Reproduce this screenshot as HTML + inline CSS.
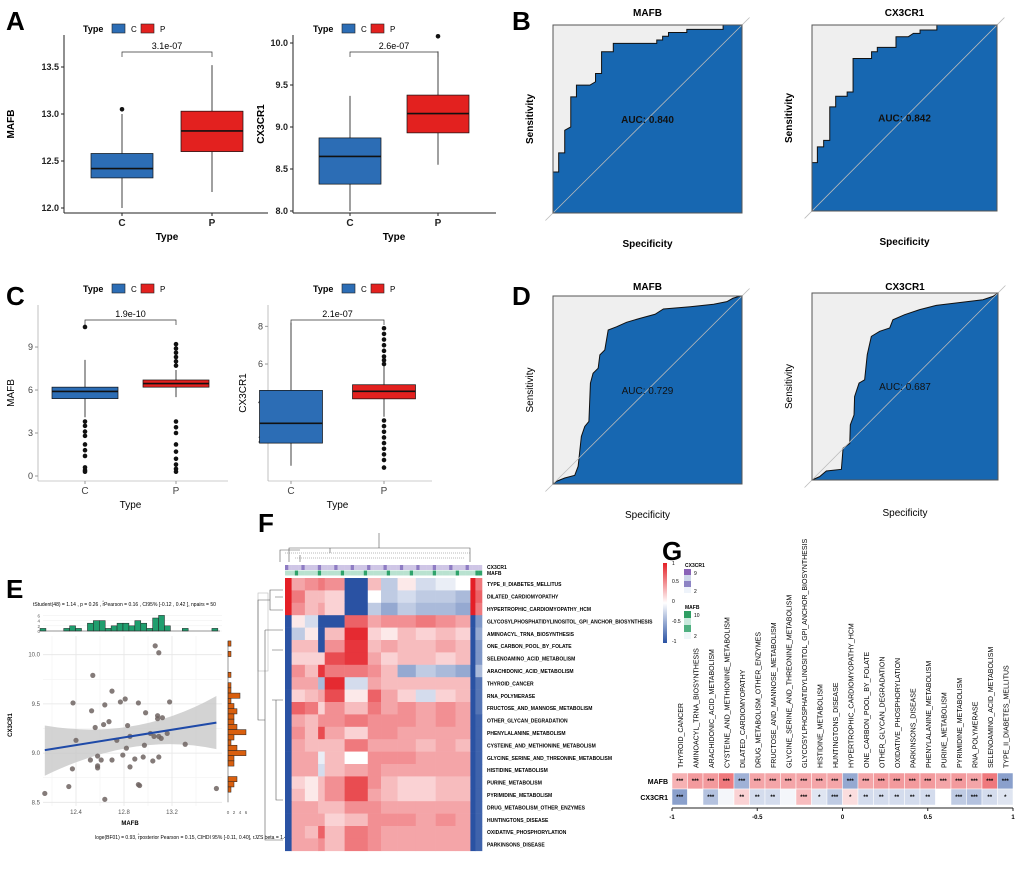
<!DOCTYPE html>
<html><head><meta charset="utf-8"><style>
body{margin:0;background:#fff}svg{display:block}
text{font-family:"Liberation Sans",sans-serif}
</style></head><body>
<svg id="fig" width="1020" height="881" viewBox="0 0 1020 881" xmlns="http://www.w3.org/2000/svg"></svg>
<script>
// ---------- data ----------
const groups=["C","P"];
const aMafbStats=[[12.0,12.32,12.42,12.58,13.0],[12.17,12.6,12.82,13.03,13.52]];
const aMafbOut=[[13.05],[]];
const aCxStats=[[8.0,8.32,8.65,8.87,9.37],[8.55,8.93,9.16,9.38,9.9]];
const aCxOut=[[],[10.08]];
const cMafbStats=[[4.1,5.4,5.9,6.2,8.1],[5.5,6.2,6.45,6.7,7.4]];
const cMafbOut=[[10.4,3.8,3.5,3.1,2.8,2.2,1.8,1.4,0.6,0.4,0.3],[9.2,8.9,8.6,8.3,8.0,7.7,3.8,3.4,3.0,2.2,1.7,1.2,0.8,0.5,0.3]];
const cCxStats=[[0.6,1.8,2.85,4.6,8.2],[3.2,4.15,4.55,4.9,5.9]];
const cCxOut=[[],[7.9,7.6,7.3,7.0,6.7,6.4,6.2,6.0,3.0,2.7,2.4,2.1,1.8,1.5,1.2,0.9,0.5]];
const bMafbFpr=[0,0,.03,.03,.062,.062,.094,.094,.124,.124,.195,.225,.225,.257,.257,.319,.319,.549,.549,.58,.58,.611,.611,.708,.708,.9,.9,1];
const bMafbTpr=[0,.218,.218,.32,.32,.44,.458,.618,.618,.68,.68,.698,.742,.742,.858,.858,.902,.902,.92,.92,.94,.94,.96,.96,.977,.977,1,1];
const bCxFpr=[0,0,.029,.029,.063,.063,.096,.096,.128,.128,.19,.19,.222,.222,.322,.322,.353,.353,.454,.454,.521,.548,.584,.584,.675,.675,1];
const bCxTpr=[0,.26,.26,.345,.345,.38,.38,.56,.56,.617,.617,.64,.64,.82,.82,.856,.856,.88,.88,.937,.937,.955,.955,.973,.973,1,1];
const dMafbFpr=[0,.018,.062,.115,.133,.15,.168,.19,.198,.212,.239,.248,.274,.292,.336,.389,.46,.54,.584,.726,.85,.92,.952,.991,1];
const dMafbTpr=[0,.014,.032,.046,.094,.253,.306,.333,.536,.589,.616,.687,.713,.819,.836,.86,.881,.903,.931,.943,.956,.97,.988,1,1];
const dCxFpr=[0,.041,.077,.158,.167,.203,.206,.226,.229,.253,.283,.297,.319,.364,.418,.435,.498,.579,.668,.919,.973,1];
const dCxTpr=[0,.018,.048,.057,.17,.196,.295,.348,.446,.518,.536,.67,.768,.795,.813,.857,.884,.911,.934,.964,.982,1];
const eX=[12.14,12.34,12.37,12.375,12.40,12.54,12.53,12.56,12.52,12.58,12.58,12.58,12.61,12.63,12.64,12.64,12.675,12.70,12.70,12.74,12.77,12.79,12.81,12.82,12.83,12.85,12.85,12.89,12.92,12.93,12.92,12.96,12.97,12.98,13.02,13.04,13.05,13.06,13.09,13.08,13.08,13.09,13.09,13.11,13.12,13.16,13.18,13.31,13.57];
const eY=[8.59,8.66,8.84,9.51,9.13,9.79,9.43,9.26,8.93,8.97,8.87,8.85,8.93,9.29,8.53,9.49,9.32,8.93,9.63,9.13,9.52,8.98,9.55,9.05,9.28,9.17,8.86,8.94,8.68,8.67,9.51,8.96,9.08,9.41,9.20,8.92,9.17,10.09,10.02,9.38,9.35,9.17,8.96,9.15,9.36,9.20,9.52,9.09,8.64];
const eHistTop=[1,0,0,0,1,2,1,0,3,4,4,1,2,3,3,2,4,3,1,5,6,2,0,0,1,0,0,0,0,1];
const eHistRight=[1,0,1,0,0,0,1,0,1,1,4,1,2,3,2,2,3,6,2,1,3,6,2,2,0,0,3,2,1];
const fRows=["TYPE_II_DIABETES_MELLITUS","DILATED_CARDIOMYOPATHY","HYPERTROPHIC_CARDIOMYOPATHY_HCM","GLYCOSYLPHOSPHATIDYLINOSITOL_GPI_ANCHOR_BIOSYNTHESIS","AMINOACYL_TRNA_BIOSYNTHESIS","ONE_CARBON_POOL_BY_FOLATE","SELENOAMINO_ACID_METABOLISM","ARACHIDONIC_ACID_METABOLISM","THYROID_CANCER","RNA_POLYMERASE","FRUCTOSE_AND_MANNOSE_METABOLISM","OTHER_GLYCAN_DEGRADATION","PHENYLALANINE_METABOLISM","CYSTEINE_AND_METHIONINE_METABOLISM","GLYCINE_SERINE_AND_THREONINE_METABOLISM","HISTIDINE_METABOLISM","PURINE_METABOLISM","PYRIMIDINE_METABOLISM","DRUG_METABOLISM_OTHER_ENZYMES","HUNTINGTONS_DISEASE","OXIDATIVE_PHOSPHORYLATION","PARKINSONS_DISEASE"];
const fVals=[
[1,.4,.5,.6,.5,-1,.3,-.3,.1,-.2,-.1,0,1,.6],
[1,.6,.3,.3,.2,-1,0,-.3,-.2,-.3,-.3,-.4,1,.7],
[1,.5,.3,.4,.2,-1,-.3,-.5,-.3,-.4,-.4,-.5,1,.6],
[-1,.1,-.2,-1,-1,.7,.4,.5,.5,.6,.5,.4,-1,-.6],
[-1,-.3,.1,-1,.3,.95,.2,.1,.3,.2,.3,.2,-1,-.5],
[-1,.3,.3,-1,.5,.9,.3,.4,.3,.3,.4,.3,-1,-.6],
[-1,.2,.2,.2,.8,.9,.4,.2,.3,.3,.2,.3,-1,-.6],
[-1,.5,.3,.9,.6,.6,.5,.3,-.5,-.3,-.4,-.5,-1,-.4],
[-1,.4,.4,-.4,.95,-.2,.4,.3,.3,.3,.3,.3,-1,-.8],
[-1,.2,.3,.4,.8,.1,.7,.4,.2,-.2,.2,.3,-1,-.8],
[-1,.7,.6,.2,.5,.3,.6,.4,.5,.4,.5,.4,-1,-.8],
[-1,.4,.3,.5,.5,.6,.5,.5,.5,.4,.5,.4,-1,-.9],
[-1,.5,.3,.8,.4,.2,.5,.5,.4,.4,.4,.4,-1,-.9],
[-1,.4,.3,.3,.3,.6,.4,.4,.4,.3,.4,.3,-1,-.9],
[-1,.4,.4,-.1,.3,0,.5,.5,.5,.4,.4,.4,-1,-.9],
[-1,.4,.4,-.2,.3,.4,.5,.4,.4,.4,.4,.4,-1,-.9],
[-1,.2,.1,.3,.5,.8,.5,.3,.2,.2,.3,.3,-1,-.9],
[-1,.3,.1,.3,.5,.8,.4,.3,.2,.2,.3,.3,-1,-.9],
[-1,.4,.4,.3,.3,.5,.5,.4,.4,.4,.4,.4,-1,-.9],
[-1,.4,.4,.4,.2,.3,.5,.5,.5,.4,.5,.4,-1,-.9],
[-1,.4,.3,.7,.3,.6,.5,.4,.4,.4,.4,.4,-1,-.9],
[-1,.4,.4,.5,.3,.6,.5,.4,.4,.4,.4,.4,-1,-.9]];
const gCols=["THYROID_CANCER","AMINOACYL_TRNA_BIOSYNTHESIS","ARACHIDONIC_ACID_METABOLISM","CYSTEINE_AND_METHIONINE_METABOLISM","DILATED_CARDIOMYOPATHY","DRUG_METABOLISM_OTHER_ENZYMES","FRUCTOSE_AND_MANNOSE_METABOLISM","GLYCINE_SERINE_AND_THREONINE_METABOLISM","GLYCOSYLPHOSPHATIDYLINOSITOL_GPI_ANCHOR_BIOSYNTHESIS","HISTIDINE_METABOLISM","HUNTINGTONS_DISEASE","HYPERTROPHIC_CARDIOMYOPATHY_HCM","ONE_CARBON_POOL_BY_FOLATE","OTHER_GLYCAN_DEGRADATION","OXIDATIVE_PHOSPHORYLATION","PARKINSONS_DISEASE","PHENYLALANINE_METABOLISM","PURINE_METABOLISM","PYRIMIDINE_METABOLISM","RNA_POLYMERASE","SELENOAMINO_ACID_METABOLISM","TYPE_II_DIABETES_MELLITUS"];
const gMafb=[.35,.45,.45,.6,-.45,.4,.4,.4,.4,.4,.4,-.5,.4,.45,.45,.45,.45,.4,.45,.4,.6,-.55];
const gCx=[-.55,0,-.35,-.05,.2,-.2,-.2,-.05,.3,-.15,-.3,.15,-.2,-.2,-.2,-.2,-.2,0,-.3,-.35,-.2,-.15];
const gMafbStars=["***","***","***","***","***","***","***","***","***","***","***","***","***","***","***","***","***","***","***","***","***","***"];
const gCxStars=["***","","***","","**","**","**","","***","*","***","*","**","**","**","**","**","","***","***","**","*"];

// ---------- helpers ----------
const NS="http://www.w3.org/2000/svg";const svg=document.getElementById('fig');
function el(tag,at,p){const e=document.createElementNS(NS,tag);for(const k in at)e.setAttribute(k,at[k]);(p||svg).appendChild(e);return e;}
function tx(x,y,s,size,o,p){const e=el('text',Object.assign({x:x,y:y,'font-size':size},o||{}),p);e.textContent=s;return e;}
const BLUE="#2c6db5",RED="#e3211f";
function heat(v){const t=Math.min(1,Math.abs(v));if(v>=0)return `rgb(${Math.round(255-27*t)},${Math.round(255-224*t)},${Math.round(255-217*t)})`;return `rgb(${Math.round(255-213*t)},${Math.round(255-173*t)},${Math.round(255-92*t)})`;}

[["A",6,30],["B",512,30],["C",6,305],["D",512,305],["E",6,598],["F",258,532],["G",662,560]].forEach(l=>{
 const t=tx(l[1],l[2],l[0],26,{'font-weight':'bold'});
 
 
});

function legend(x,y,name){
 const g=el('g',{});
 
 
 tx(x,y+4,"Type",9,{'font-weight':'bold'},g);
 el('rect',{x:x+29,y:y-4,width:13,height:9,fill:BLUE,stroke:"#222",'stroke-width':.6},g);
 tx(x+48,y+4,"C",8,{},g);
 el('rect',{x:x+58,y:y-4,width:13,height:9,fill:RED,stroke:"#222",'stroke-width':.6},g);
 tx(x+77,y+4,"P",8,{},g);
}

function boxplot(o){
 const g=el('g',{});
 
 
 const sy=v=>o.y0-(v-o.v0)*o.k;
 el('line',{x1:o.ax,y1:o.top,x2:o.ax,y2:o.bot,stroke:o.axc,'stroke-width':o.aw},g);
 el('line',{x1:o.ax,y1:o.bot,x2:o.right,y2:o.bot,stroke:o.axc,'stroke-width':o.aw},g);
 o.ticks.forEach(t=>{el('line',{x1:o.ax-3,y1:sy(t),x2:o.ax,y2:sy(t),stroke:o.axc},g);tx(o.ax-5,sy(t)+3,o.tf(t),o.tfs,{'text-anchor':'end',fill:o.tc,'font-weight':o.bold?'bold':'normal'},g);});
 groups.forEach((gr,i)=>{
  const cx=o.cx[i],w=o.w,s=o.stats[i];
  el('line',{x1:cx,y1:o.bot,x2:cx,y2:o.bot+3,stroke:o.axc},g);
  tx(cx,o.bot+13,gr,o.tfs+1,{'text-anchor':'middle','font-weight':o.bold?'bold':'normal',fill:o.tc},g);
  el('line',{x1:cx,y1:sy(s[0]),x2:cx,y2:sy(s[4]),stroke:"#111",'stroke-width':.8},g);
  const b=el('rect',{x:cx-w/2,y:sy(s[3]),width:w,height:sy(s[1])-sy(s[3]),fill:i?RED:BLUE,stroke:"#111",'stroke-width':.7},g);
  
  
  el('line',{x1:cx-w/2,y1:sy(s[2]),x2:cx+w/2,y2:sy(s[2]),stroke:"#111",'stroke-width':1.6},g);
  o.out[i].forEach(v=>{const c=el('circle',{cx:cx,cy:sy(v),r:2.3,fill:"#111"},g);
   
   });
 });
 const by=o.by;
 el('path',{d:`M${o.cx[0]},${by+5}V${by}H${o.cx[1]}V${by+5}`,fill:"none",stroke:"#333",'stroke-width':.7},g);
 tx((o.cx[0]+o.cx[1])/2,by-3,o.p,9,{'text-anchor':'middle'},g);
 const xl=tx((o.cx[0]+o.cx[1])/2,o.bot+27,"Type",10,{'text-anchor':'middle','font-weight':o.bold?'bold':'normal'},g);
 
 
 const yl=tx(0,0,o.ylab,10,{'text-anchor':'middle','font-weight':o.bold?'bold':'normal',transform:`translate(${o.ylx},${(o.top+o.bot)/2}) rotate(-90)`},g);
 
 
}

legend(83,28,"legend-a-left");legend(313,28,"legend-a-right");
legend(83,288,"legend-c-left");legend(313,288,"legend-c-right");
boxplot({name:"boxplot-a-mafb",ax:64,top:35,bot:213,right:268,y0:208,v0:12,k:94,ticks:[12,12.5,13,13.5],tf:t=>t.toFixed(1),tfs:9,tc:"#222",bold:true,axc:"#222",aw:1,cx:[122,212],w:62,stats:aMafbStats,out:aMafbOut,by:52,p:"3.1e-07",ylab:"MAFB",ylx:14});
boxplot({name:"boxplot-a-cx3cr1",ax:293,top:35,bot:213,right:496,y0:211,v0:8,k:84,ticks:[8,8.5,9,9.5,10],tf:t=>t.toFixed(1),tfs:9,tc:"#222",bold:true,axc:"#222",aw:1,cx:[350,438],w:62,stats:aCxStats,out:aCxOut,by:52,p:"2.6e-07",ylab:"CX3CR1",ylx:264});
boxplot({name:"boxplot-c-mafb",ax:38,top:305,bot:481,right:228,y0:476,v0:0,k:14.33,ticks:[0,3,6,9],tf:t=>String(t),tfs:9,tc:"#444",bold:false,axc:"#999",aw:.6,cx:[85,176],w:66,stats:cMafbStats,out:cMafbOut,by:320,p:"1.9e-10",ylab:"MAFB",ylx:14});
boxplot({name:"boxplot-c-cx3cr1",ax:268,top:305,bot:481,right:432,y0:477,v0:0,k:18.83,ticks:[2,4,6,8],tf:t=>String(t),tfs:9,tc:"#444",bold:false,axc:"#999",aw:.6,cx:[291,384],w:63,stats:cCxStats,out:cCxOut,by:320,p:"2.1e-07",ylab:"CX3CR1",ylx:246});

function roc(o){
 const g=el('g',{});
 
 
 const X=f=>o.x+f*o.w,Y=t=>o.y+o.h-t*o.h;
 el('rect',{x:o.x,y:o.y,width:o.w,height:o.h,fill:"#efefef"},g);
 let d=`M${X(0)},${Y(0)}`;o.fpr.forEach((f,i)=>d+=`L${X(f)},${Y(o.tpr[i])}`);
 const area=el('path',{d:d+`L${X(1)},${Y(0)}Z`,fill:"#1767b1"},g);
 
 
 let c=`M${X(0)},${Y(0)}`;o.fpr.forEach((f,i)=>c+=`L${X(f)},${Y(o.tpr[i])}`);
 const line=el('path',{d:c,fill:"none",stroke:"#111",'stroke-width':1},g);
 
 
 el('line',{x1:X(-0.04),y1:Y(-0.04),x2:X(1.04),y2:Y(1.04),stroke:"#bbb",'stroke-width':.8},g);
 el('rect',{x:o.x,y:o.y,width:o.w,height:o.h,fill:"none",stroke:"#555",'stroke-width':1},g);
 tx(o.x+o.w/2,o.y+o.h*0.52,o.auc,10,{'text-anchor':'middle','font-weight':o.bold?'bold':'normal',fill:"#111"},g);
 const tt=tx(o.x+o.w/2,o.ty,o.title,10,{'text-anchor':'middle','font-weight':'bold'},g);
 
 
 tx(o.x+o.w/2,o.sy,"Specificity",10,{'text-anchor':'middle','font-weight':o.bold?'bold':'normal'},g);
 tx(0,0,"Sensitivity",10,{'text-anchor':'middle','font-weight':o.bold?'bold':'normal',transform:`translate(${o.x-20},${o.y+o.h/2}) rotate(-90)`},g);
}
roc({name:"roc-b-mafb",x:553,y:25,w:189,h:188,fpr:bMafbFpr,tpr:bMafbTpr,auc:"AUC: 0.840",title:"MAFB",ty:16,sy:247,bold:true});
roc({name:"roc-b-cx3cr1",x:812,y:25,w:185,h:186,fpr:bCxFpr,tpr:bCxTpr,auc:"AUC: 0.842",title:"CX3CR1",ty:16,sy:245,bold:true});
roc({name:"roc-d-mafb",x:553,y:296,w:189,h:188,fpr:dMafbFpr,tpr:dMafbTpr,auc:"AUC: 0.729",title:"MAFB",ty:290,sy:518,bold:false});
roc({name:"roc-d-cx3cr1",x:812,y:293,w:186,h:187,fpr:dCxFpr,tpr:dCxTpr,auc:"AUC: 0.687",title:"CX3CR1",ty:290,sy:516,bold:false});

// ---------- panel E ----------
(function(){
 const g=el('g',{});
 
 
 const X=v=>76+(v-12.4)*120,Y=v=>654.7-(v-10)*98.4;
 const L=43,R=222,T=636,B=806;
 [12.2,12.6,13.0,13.4].forEach(v=>el('line',{x1:X(v),y1:T,x2:X(v),y2:B,stroke:"#f2f2f2",'stroke-width':.6},g));
 [9.75,9.25,8.75].forEach(v=>el('line',{x1:L,y1:Y(v),x2:R,y2:Y(v),stroke:"#f2f2f2",'stroke-width':.6},g));
 [12.4,12.8,13.2].forEach(v=>{el('line',{x1:X(v),y1:T,x2:X(v),y2:B,stroke:"#e6e6e6",'stroke-width':.8},g);tx(X(v),B+8,v.toFixed(1),6,{'text-anchor':'middle',fill:"#555"},g);});
 [10,9.5,9,8.5].forEach(v=>{el('line',{x1:L,y1:Y(v),x2:R,y2:Y(v),stroke:"#e6e6e6",'stroke-width':.8},g);tx(L-3,Y(v)+2,v.toFixed(1),6,{'text-anchor':'end',fill:"#555"},g);});
 const x0=12.14,x1=13.57,y0=9.03,y1=9.31;
 const band=el('path',{d:`M${X(x0)},${Y(9.28)}Q${X(12.9)},${Y(9.12)} ${X(x1)},${Y(9.58)}L${X(x1)},${Y(9.04)}Q${X(12.9)},${Y(9.22)} ${X(x0)},${Y(8.77)}Z`,fill:"#c8c8c8",opacity:.8},g);
 
 
 eX.forEach((v,i)=>{const c=el('circle',{cx:X(v),cy:Y(eY[i]),r:2.6,fill:"#6e6462",opacity:.85},g);
  
  });
 const rl=el('line',{x1:X(x0),y1:Y(y0),x2:X(x1),y2:Y(y1),stroke:"#1f4aa8",'stroke-width':2},g);
 
 
 const bw=0.0494;
 [0,2,4,6].forEach(c=>{el('line',{x1:L,y1:631-c*2.6,x2:R,y2:631-c*2.6,stroke:"#eee",'stroke-width':.5},g);tx(L-3,633-c*2.6,String(c),4.5,{'text-anchor':'end',fill:"#555"},g);});
 eHistTop.forEach((c,i)=>{if(!c)return;const r=el('rect',{x:X(12.1+i*bw),y:631-c*2.6,width:bw*120,height:c*2.6,fill:"#1f9e6e",stroke:"#222",'stroke-width':.5},g);
  
  });
 el('line',{x1:X(12.1),y1:631,x2:X(13.6),y2:631,stroke:"#333",'stroke-width':.5},g);
 const bh=0.053;
 eHistRight.forEach((c,i)=>{if(!c)return;const r=el('rect',{x:228,y:Y(10.14-i*bh),width:c*3,height:bh*98.4,fill:"#d95f0e",stroke:"#222",'stroke-width':.5},g);
  
  });
 el('line',{x1:228,y1:Y(10.14),x2:228,y2:Y(8.5),stroke:"#333",'stroke-width':.5},g);
 [0,2,4,6].forEach(c=>tx(228+c*3,B+8,String(c),4.5,{'text-anchor':'middle',fill:"#555"},g));
 tx(130,825,"MAFB",6,{'text-anchor':'middle','font-weight':'bold'},g);
 tx(0,0,"CX3CR1",6,{'text-anchor':'middle','font-weight':'bold',transform:`translate(12,725) rotate(-90)`},g);
 tx(33,606,"tStudent(48) = 1.14 , p = 0.26 , r̂Pearson = 0.16 , CI95% [-0.12 , 0.42 ], npairs = 50",5,{},g);
 tx(95,839,"loge(BF01) = 0.93, r̂posterior Pearson = 0.15, CIHDI 95% [-0.11, 0.40], rJZS beta = 1.41",5,{},g);
 el('rect',{x:258,y:593,width:10,height:78,fill:"none",stroke:"#bbb",'stroke-width':.6},g);
})();

// ---------- panel F ----------
(function(){
 const g=el('g',{});
 
 
 const hx=285,hw=197,hy=578,rh=12.4;
 const segB=[0,20,60,100,120,180,250,290,340,395,455,515,560,575,595];
 const sx=u=>hx+u/595*hw;
 fVals.forEach((row,r)=>{row.forEach((v,c)=>{const rc=el('rect',{x:sx(segB[c]),y:hy+r*rh,width:sx(segB[c+1])-sx(segB[c])+.3,height:rh+.3,fill:heat(v)},g);
   
   });
  const lb=tx(487,hy+r*rh+rh/2+2,fRows[r],5,{'font-weight':'bold'},g);
  
  
 });
 for(let i=0;i<60;i++){const x=hx+i*hw/60;
  el('rect',{x:x,y:565,width:hw/60+.2,height:5,fill:i%5==0?"#8e7cc3":"#cfc6e6"},g);
  el('rect',{x:x,y:570.5,width:hw/60+.2,height:5,fill:(i%7==3||i>57)?"#2fa36b":"#b9e2d0"},g);}
 tx(487,569,"CX3CR1",5,{'font-weight':'bold'},g);tx(487,575,"MAFB",5,{'font-weight':'bold'},g);
 el('path',{d:"M289,562V548H470V562M379,548V533M330,548V553M300,562V555M470,562V556M280,562V550H300",fill:"none",stroke:"#555",'stroke-width':.6},g);
 el('path',{d:"M285,553H470M295,558H465",fill:"none",stroke:"#777",'stroke-width':.5,'stroke-dasharray':'1 1'},g);
 el('path',{d:"M283,590H270V610H283M283,597H275M270,600H258V720H265M265,630H283M265,630V840H272M272,650H283M272,840H283M272,700H283M276,700V800H283",fill:"none",stroke:"#555",'stroke-width':.6},g);
})();

// ---------- panel G ----------
(function(){
 const g=el('g',{});
 
 
 const x0=672,cw=(1013-672)/gCols.length;
 gCols.forEach((c,i)=>{
  const cx=x0+i*cw;
  const a=el('rect',{x:cx,y:773,width:cw,height:16,fill:heat(gMafb[i]),stroke:"#fff",'stroke-width':.5},g);
  
  
  const b=el('rect',{x:cx,y:789,width:cw,height:16,fill:heat(gCx[i]),stroke:"#fff",'stroke-width':.5},g);
  
  
  tx(cx+cw/2,783,gMafbStars[i],6,{'text-anchor':'middle','font-weight':'bold'},g);
  tx(cx+cw/2,799,gCxStars[i],6,{'text-anchor':'middle','font-weight':'bold'},g);
  const l=tx(0,0,c,7,{transform:`translate(${cx+cw/2+3},768) rotate(-90)`},g);
  
  
 });
 tx(668,784,"MAFB",7,{'text-anchor':'end','font-weight':'bold'},g);
 tx(668,800,"CX3CR1",7,{'text-anchor':'end','font-weight':'bold'},g);
 el('line',{x1:672,y1:808,x2:1013,y2:808,stroke:"#222",'stroke-width':1},g);
 [-1,-0.5,0,0.5,1].forEach(v=>{const x=672+(v+1)/2*341;el('line',{x1:x,y1:808,x2:x,y2:811,stroke:"#222"},g);tx(x,819,String(v),6,{'text-anchor':'middle','font-weight':'bold'},g);});
 const defs=el('defs',{},g);const lg=el('linearGradient',{id:'cb',x1:0,y1:0,x2:0,y2:1},defs);
 [[0,heat(1)],[.5,"#fff"],[1,heat(-1)]].forEach(s=>el('stop',{offset:s[0],'stop-color':s[1]},lg));
 const cb=el('rect',{x:663,y:563,width:4,height:80,fill:"url(#cb)"},g);
 
 
 [[1,565],[0.5,583],[0,603],[-0.5,623],[-1,643]].forEach(t=>tx(672,t[1],String(t[0]),5,{},g));
 tx(685,567,"CX3CR1",5,{'font-weight':'bold'},g);
 ["#8a63b8","#cdd6ea","#8d84c4","#eef3fa"].forEach((c,i)=>el('rect',{x:684,y:569+i*6,width:7,height:6,fill:c},g));
 tx(694,575,"9",5,{},g);tx(694,593,"2",5,{},g);
 tx(685,609,"MAFB",5,{'font-weight':'bold'},g);
 ["#2e9e63","#c9e9dc","#4fb080","#eef6f8"].forEach((c,i)=>el('rect',{x:684,y:611+i*7,width:7,height:7,fill:c},g));
 tx(694,617,"10",5,{},g);tx(694,638,"2",5,{},g);
})();
</script>
</body></html>
